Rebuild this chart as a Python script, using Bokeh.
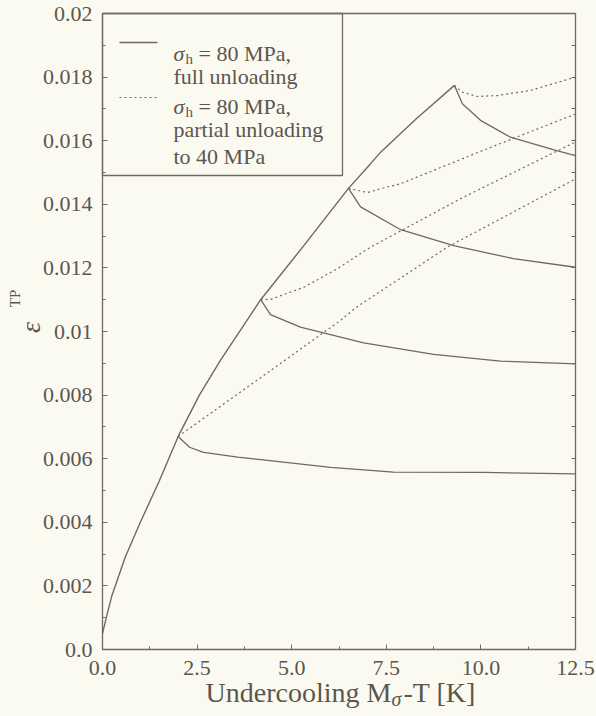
import math
from bokeh.plotting import figure
from bokeh.models import Range1d, FixedTicker, LinearAxis, Label
from bokeh.embed import file_html
from bokeh.resources import INLINE

# ---------------- data ----------------
load_x = [0.0, 0.1, 0.25, 0.6, 1.0, 1.5, 2.0, 2.56, 3.12, 4.18, 5.32, 6.5, 7.08, 7.35, 8.3, 9.3]
load_y = [0.0005, 0.0010, 0.0017, 0.0029, 0.0040, 0.0053, 0.0067, 0.0080, 0.0091, 0.0110,
          0.0127, 0.0145, 0.01527, 0.01564, 0.0167, 0.01774]

full1_x = [2.0, 2.3, 2.67, 3.57, 6.03, 7.69, 10.07, 12.5]
full1_y = [0.0067, 0.00636, 0.0062, 0.00605, 0.00573, 0.00558, 0.00557, 0.00552]
full2_x = [4.18, 4.44, 5.23, 6.9, 8.75, 10.52, 12.5]
full2_y = [0.0110, 0.01053, 0.01014, 0.00964, 0.00928, 0.00907, 0.00898]
full3_x = [6.5, 6.82, 7.88, 9.28, 10.86, 12.5]
full3_y = [0.0145, 0.01392, 0.0132, 0.0127, 0.01229, 0.01202]
full4_x = [9.3, 9.51, 9.99, 10.78, 11.93, 12.5]
full4_y = [0.01774, 0.01716, 0.01664, 0.01611, 0.01571, 0.01553]

part1_x = [2.0, 4.44, 6.29, 6.73, 9.11, 12.5]
part1_y = [0.0067, 0.00877, 0.01035, 0.01078, 0.01265, 0.0148]
part2_x = [4.18, 4.44, 5.32, 6.2, 7.08, 9.5, 12.5]
part2_y = [0.0110, 0.01101, 0.01139, 0.01197, 0.01265, 0.0142, 0.01596]
part3_x = [6.5, 7.0, 7.35, 7.88, 10.0, 12.5]
part3_y = [0.0145, 0.01437, 0.01449, 0.01465, 0.01567, 0.01684]
part4_x = [9.3, 9.5, 9.9, 10.43, 11.31, 12.5]
part4_y = [0.01774, 0.01753, 0.01739, 0.01742, 0.01758, 0.0180]

x_ticks = [0.0, 2.5, 5.0, 7.5, 10.0, 12.5]
x_tick_labels = ["0.0", "2.5", "5.0", "7.5", "10.0", "12.5"]
x_minor = [1.25, 3.75, 6.25, 8.75, 11.25]
y_ticks = [0.0, 0.002, 0.004, 0.006, 0.008, 0.01, 0.012, 0.014, 0.016, 0.018, 0.02]
y_tick_labels = ["0.0", "0.002", "0.004", "0.006", "0.008", "0.01", "0.012", "0.014",
                 "0.016", "0.018", "0.02"]
y_minor = [0.001, 0.003, 0.005, 0.007, 0.009, 0.011, 0.013, 0.015, 0.017, 0.019]

# ---------------- layout ----------------
W, H = 596, 716
L, R, T, B = 102, 575, 13, 649          # plot box in pixels
X0, X1, Y0, Y1 = 0.0, 12.5, 0.0, 0.02   # data limits of the plot box

BG = "#fbfaf0"
INK = "#6e6961"
TXT = "#5b564f"
FONT = "Liberation Serif, Times New Roman, DejaVu Serif, serif"


def dx(px):
    return X0 + (px - L) / (R - L) * (X1 - X0)


def dy(py):
    return Y0 + (B - py) / (B - T) * (Y1 - Y0)


# the frame covers the whole canvas; axes sit at fixed data locations
p = figure(width=W, height=H, output_backend="svg", toolbar_location=None,
           x_range=Range1d(dx(0), dx(W)), y_range=Range1d(dy(H), dy(0)),
           x_axis_location=None, y_axis_location=None,
           min_border=0)
p.background_fill_color = BG
p.border_fill_color = BG
p.outline_line_color = None
p.grid.visible = False

xa = LinearAxis(fixed_location=Y0, bounds=(X0, X1),
                ticker=FixedTicker(ticks=x_ticks, minor_ticks=x_minor))
xa.major_label_overrides = dict(zip(x_ticks, x_tick_labels))
ya = LinearAxis(fixed_location=X0, bounds=(Y0, Y1),
                ticker=FixedTicker(ticks=y_ticks, minor_ticks=y_minor))
ya.major_label_overrides = dict(zip(y_ticks, y_tick_labels))
ra = LinearAxis(fixed_location=X1, bounds=(Y0, Y1),
                ticker=FixedTicker(ticks=[], minor_ticks=sorted(y_ticks + y_minor)))
ta = LinearAxis(fixed_location=Y1, bounds=(X0, X1),
                ticker=FixedTicker(ticks=[], minor_ticks=[]))
p.add_layout(xa, "below")
p.add_layout(ya, "left")
p.add_layout(ra, "right")
p.add_layout(ta, "above")

for ax in (xa, ya, ra, ta):
    ax.axis_line_color = INK
    ax.axis_line_width = 1.3
    ax.major_tick_line_color = INK
    ax.minor_tick_line_color = INK
    ax.major_tick_in = 5
    ax.major_tick_out = 0
    ax.minor_tick_in = 3
    ax.minor_tick_out = 0
    ax.major_label_text_font = FONT
    ax.major_label_text_color = TXT
    ax.major_label_text_font_size = "22px"
ra.minor_tick_in = 4
xa.major_label_standoff = 11
ya.major_label_standoff = 10

# ---------------- curves ----------------
p.line(load_x, load_y, line_color=INK, line_width=1.4)
for xs, ys in [(full1_x, full1_y), (full2_x, full2_y), (full3_x, full3_y), (full4_x, full4_y)]:
    p.line(xs, ys, line_color=INK, line_width=1.3)
for xs, ys in [(part1_x, part1_y), (part2_x, part2_y), (part3_x, part3_y), (part4_x, part4_y)]:
    p.line(xs, ys, line_color=INK, line_width=1.2, line_dash="2 3")

# ---------------- legend ----------------
p.quad(left=[dx(L)], right=[dx(342)], bottom=[dy(175)], top=[dy(T)],
       fill_color=BG, line_color=INK, line_width=1.3)
p.line([dx(119), dx(157)], [dy(42), dy(42)], line_color=INK, line_width=1.3)
p.line([dx(119), dx(157)], [dy(97), dy(97)], line_color=INK, line_width=1.2, line_dash="2 3")


def lab(text, px, py, size, italic=False, align="left", baseline="alphabetic", angle=0.0):
    p.add_layout(Label(x=dx(px), y=dy(py), text=text, text_font=FONT,
                       text_font_size=f"{size}px", text_color=TXT,
                       text_font_style="italic" if italic else "normal",
                       text_align=align, text_baseline=baseline, angle=angle))


for base in (53, 106):
    lab("σ", 173, base, 22, italic=True)
    lab("h", 185, base + 5, 15)
    lab("= 80 MPa,", 198, base, 22)
lab("full unloading", 173, 76, 22)
lab("partial unloading", 173, 129, 22)
lab("to 40 MPa", 173, 156, 22)

# axis titles
lab("Undercooling M", 205, 692, 28)
lab("σ", 391, 698, 20, italic=True)
lab("-T [K]", 403, 692, 28)

lab("ε", 30, 327, 28, italic=True, align="center", baseline="middle", angle=math.pi / 2)
lab("TP", 14, 298, 15, align="center", baseline="middle", angle=math.pi / 2)

open("out.html", "w").write(file_html(p, INLINE))
